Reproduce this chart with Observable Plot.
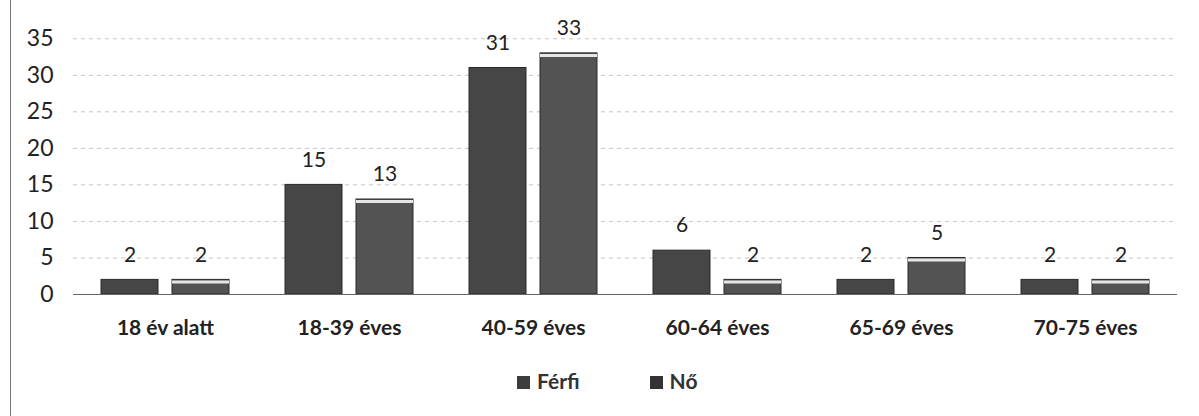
<!DOCTYPE html>
<html><head><meta charset="utf-8">
<script src="https://cdn.jsdelivr.net/npm/d3@7"></script>
<script src="https://cdn.jsdelivr.net/npm/@observablehq/plot@0.6"></script>
<style>
body{margin:0;background:#fff;font-family:Lato,"Open Sans",sans-serif;}
#wrap{position:relative;width:1199px;height:416px;overflow:hidden;}
#frame{position:absolute;left:10px;top:0;width:1px;height:416px;background:#777;}
#legend{position:absolute;top:368px;left:517px;display:flex;gap:70px;font-weight:700;font-size:21px;color:#333;}
#legend span.sw{display:inline-block;width:13px;height:13px;margin-right:7px;vertical-align:0px;}
</style></head>
<body><div id="wrap"><div id="frame"></div><div id="chart"></div>
<div id="legend"><div><span class="sw" style="background:#3d3d3d"></span>Férfi</div><div><span class="sw" style="background:#333"></span>Nő</div></div></div>
<script>
const categories = ["18 év alatt","18-39 éves","40-59 éves","60-64 éves","65-69 éves","70-75 éves"];
const series = ["Férfi","Nő"];
const ferfi = [2,15,31,6,2,2];
const no = [2,13,33,2,5,2];
const yTicks = [0,5,10,15,20,25,30,35];

const data = [];
categories.forEach((c,i)=>{
  data.push({cat:c, s:"Férfi", v:ferfi[i]});
  data.push({cat:c, s:"Nő", v:no[i]});
});

const chart = Plot.plot({
  width:1199, height:345,
  marginLeft:70, marginRight:20, marginTop:20, marginBottom:51,
  style:{fontFamily:"Lato, 'Open Sans', sans-serif", fontSize:"17px", color:"#222"},
  fx:{domain:categories, padding:0, label:null},
  x:{domain:series, paddingInner:0.2, paddingOuter:0.385, axis:null},
  y:{domain:[0,37.5], label:null},
  color:{domain:series, range:["#464646","#535353"]},
  marks:[
    Plot.ruleY(yTicks.filter(d=>d>0), {stroke:"#aaa", strokeDasharray:"4,4", strokeOpacity:0.7}),
    Plot.axisY({ticks:yTicks, tickSize:0, tickPadding:20, fontSize:23, label:null}),
    Plot.axisFx({anchor:"bottom", tickSize:0, tickPadding:26, fontWeight:700, fontSize:21, label:null}),
    Plot.barY(data, {fx:"cat", x:"s", y:"v", fill:"s", stroke:"#2a2a2a", strokeWidth:1}),
    Plot.tickY(data.filter(d=>d.s==="Nő"), {fx:"cat", x:"s", y:"v", stroke:"#e6e6e6", strokeWidth:3, dy:2}),
    Plot.text(data, {fx:"cat", x:"s", y:"v", text:d=>String(d.v), dy:-25, fontSize:21, fill:"#222"}),
    Plot.ruleY([0], {stroke:"#666"})
  ]
});
document.getElementById("chart").appendChild(chart);
</script></body></html>
